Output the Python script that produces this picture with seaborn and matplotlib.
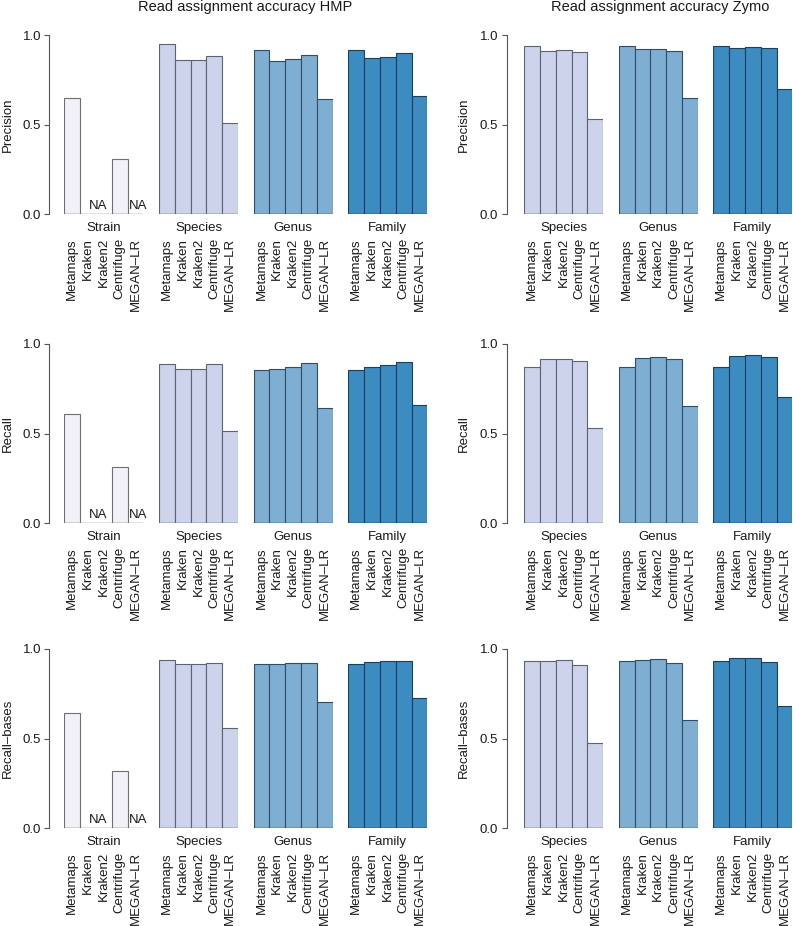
import numpy as np
import pandas as pd
import seaborn as sns
import matplotlib.pyplot as plt

nan = np.nan

methods = ['Metamaps', 'Kraken', 'Kraken2', 'Centrifuge', 'MEGAN–LR']
levels_hmp = ['Strain', 'Species', 'Genus', 'Family']
levels_zymo = ['Species', 'Genus', 'Family']
metrics = ['Precision', 'Recall', 'Recall–bases']

# HMP values, one list per level (Strain, Species, Genus, Family)
hmp_precision = [[0.65, nan, nan, 0.31, nan],
                 [0.948, 0.86, 0.86, 0.884, 0.51],
                 [0.916, 0.856, 0.868, 0.886, 0.642],
                 [0.916, 0.873, 0.88, 0.90, 0.659]]
hmp_recall = [[0.608, nan, nan, 0.312, nan],
              [0.887, 0.862, 0.862, 0.887, 0.513],
              [0.857, 0.859, 0.87, 0.892, 0.643],
              [0.857, 0.873, 0.885, 0.901, 0.661]]
hmp_recall_bases = [[0.644, nan, nan, 0.319, nan],
                    [0.939, 0.915, 0.915, 0.919, 0.56],
                    [0.913, 0.913, 0.92, 0.922, 0.705],
                    [0.913, 0.924, 0.931, 0.931, 0.727]]

# Zymo values (Species, Genus, Family)
zymo_precision = [[0.939, 0.913, 0.917, 0.906, 0.532],
                  [0.939, 0.922, 0.922, 0.913, 0.649],
                  [0.939, 0.930, 0.933, 0.926, 0.698]]
zymo_recall = [[0.870, 0.915, 0.918, 0.907, 0.532],
               [0.870, 0.924, 0.929, 0.918, 0.652],
               [0.870, 0.935, 0.941, 0.929, 0.702]]
zymo_recall_bases = [[0.930, 0.933, 0.937, 0.911, 0.477],
                     [0.931, 0.939, 0.944, 0.919, 0.603],
                     [0.931, 0.948, 0.950, 0.928, 0.681]]

na_methods = ['Kraken2', 'MEGAN–LR']

fills = {'Strain': '#F2F0F8', 'Species': '#CCD3EA', 'Genus': '#7FAED3', 'Family': '#3C8BC1'}
edges = {'Strain': '#707070', 'Species': '#5C6373', 'Genus': '#2F4D68', 'Family': '#1B405E'}

sns.set_theme(style='white')
plt.rcParams['font.family'] = ['Liberation Sans', 'DejaVu Sans']
FS = 9.5
txt = '#1a1a1a'

W, H = 793, 926
fig = plt.figure(figsize=(W / 100, H / 100), dpi=100)


def px_axes(x0, top, w, bottom):
    return fig.add_axes([x0 / W, 1 - bottom / H, w / W, (bottom - top) / H])


rows_px = [(35, 214.3), (344, 523.3), (648.7, 828.3)]
hmp_x = [64.3, 159, 253.5, 348.3]
zymo_x = [524.3, 618.7, 713.3]
panel_w = 79


def draw_block(xs, levels, data, ylabel, outward_px, ylab_px, top, bottom):
    for i, (x0, lev, vals) in enumerate(zip(xs, levels, data)):
        ax = px_axes(x0, top, panel_w, bottom)
        df = pd.DataFrame({'method': methods, 'value': vals})
        sns.barplot(data=df, x='method', y='value', order=methods,
                    color=fills[lev], edgecolor=edges[lev], linewidth=0.8,
                    width=1, errorbar=None, saturation=1, ax=ax)
        ax.axhline(0, color=edges[lev], lw=1.0)
        ax.set_xlim(-0.5, 4.5)
        ax.set_ylim(0, 1)
        ax.set_xlabel('')
        ax.set_ylabel('')
        ax.set_xticks(range(5))
        ax.set_xticklabels(methods, rotation=90, color=txt, fontsize=FS)
        ax.tick_params(axis='x', length=0, pad=17)
        for s in ax.spines.values():
            s.set_visible(False)
        ax.text(2, -0.075, lev, ha='center', va='center', color=txt,
                fontsize=FS, clip_on=False)
        if lev == 'Strain':
            for m, dx in zip(na_methods, [-0.35, 0.15]):
                k = methods.index(m)
                ax.text(k + dx, 0.012, 'NA', ha='center', va='bottom',
                        color=txt, fontsize=FS, clip_on=False)
        if i == 0:
            sp = ax.spines['left']
            sp.set_visible(True)
            sp.set_position(('outward', outward_px * 0.72))
            sp.set_bounds(0, 1)
            sp.set_color('#555555')
            sp.set_linewidth(0.8)
            ax.set_yticks([0, 0.5, 1])
            ax.set_yticklabels(['0.0', '0.5', '1.0'], color=txt, fontsize=FS)
            ax.tick_params(axis='y', left=True, length=3.5, width=0.8,
                           color='#555555', pad=2.5)
        else:
            ax.set_yticks([])
    fig.text(ylab_px / W, 1 - (top + bottom) / 2 / H, ylabel, rotation=90,
             ha='center', va='center', color=txt, fontsize=FS)


hmp_data = [hmp_precision, hmp_recall, hmp_recall_bases]
zymo_data = [zymo_precision, zymo_recall, zymo_recall_bases]

for r, (top, bottom) in enumerate(rows_px):
    draw_block(hmp_x, levels_hmp, hmp_data[r], metrics[r], 15, 8, top, bottom)
    draw_block(zymo_x, levels_zymo, zymo_data[r], metrics[r], 17.6, 464, top, bottom)

fig.text(245 / W, 1 - 7 / H, 'Read assignment accuracy HMP', ha='center',
         va='center', color=txt, fontsize=10.5)
fig.text(660 / W, 1 - 7 / H, 'Read assignment accuracy Zymo', ha='center',
         va='center', color=txt, fontsize=10.5)

fig.savefig('out.png', dpi=100)
